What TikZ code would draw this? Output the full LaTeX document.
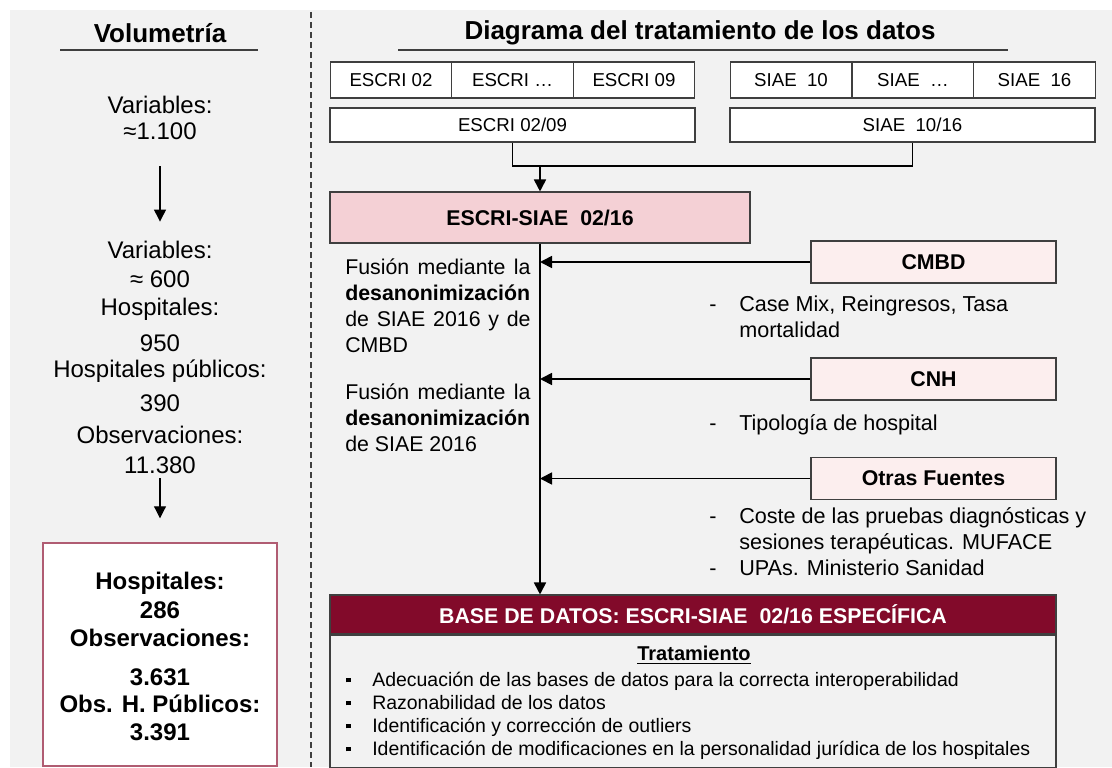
\documentclass[tikz,border=0pt]{standalone}
\usepackage{fontspec}
\setmainfont{Liberation Sans}
\usetikzlibrary{arrows.meta,positioning}
\definecolor{fondo}{HTML}{F2F2F2}
\definecolor{borde}{HTML}{3F3F3F}
\definecolor{rosa}{HTML}{F4D0D5}
\definecolor{rosaclaro}{HTML}{FCEEEE}
\definecolor{granate}{HTML}{820A2A}
\definecolor{marco}{HTML}{B05C72}
\newcommand{\vineta}{\raisebox{2.8pt}{\rule{3.5pt}{3.5pt}}}
\tikzset{
  titulo/.style={font=\fontsize{19.5}{22}\selectfont\bfseries, inner sep=0pt},
  subrayado/.style={draw=borde, line width=1pt},
  separador/.style={draw=borde, line width=1.1pt, dash pattern=on 4.5pt off 3pt},
  celda/.style={draw=borde, fill=white, line width=0.8pt, minimum width=91.4pt,
    minimum height=27pt, inner sep=0pt, font=\fontsize{14}{16}\selectfont},
  fila/.style={celda, minimum width=273.75pt, minimum height=25.5pt},
  fusion/.style={draw=borde, fill=rosa, line width=0.8pt, minimum width=315pt,
    minimum height=38.25pt, inner sep=0pt, font=\fontsize{16}{19}\selectfont\bfseries},
  fuente/.style={draw=borde, fill=rosaclaro, line width=0.8pt, minimum width=183.75pt,
    minimum height=31.5pt, inner sep=0pt, font=\fontsize{16}{19}\selectfont\bfseries},
  cabecera/.style={draw=borde, fill=granate, text=white, line width=0.8pt,
    minimum width=544.5pt, minimum height=29.25pt, inner sep=0pt,
    font=\fontsize{16}{19}\selectfont\bfseries},
  cuerpo/.style={draw=borde, fill=fondo, line width=0.8pt, minimum width=544.5pt,
    minimum height=99pt, inner sep=0pt},
  texto/.style={inner sep=0pt, font=\fontsize{16.2}{19.4}\selectfont},
  lista/.style={inner sep=0pt, font=\fontsize{14.6}{17.25}\selectfont},
  izq/.style={inner sep=0pt, font=\fontsize{18}{21}\selectfont},
  resnum/.style={inner sep=0pt, font=\fontsize{18}{21}\selectfont\bfseries},
  resumen/.style={draw=marco, fill=white, line width=1.1pt, minimum width=175.5pt,
    minimum height=167.25pt, inner sep=0pt},
  conector/.style={draw=black, line width=1.3pt},
  flecha/.style={conector, -{Triangle[width=9pt,length=9pt]}},
  flechafina/.style={draw=black, line width=0.8pt, -{Triangle[width=9pt,length=9pt]}}
}
\begin{document}
\begin{tikzpicture}[x=0.75pt,y=-0.75pt]
\useasboundingbox (0,0) rectangle (1112,767);
\fill[fondo] (10,10) rectangle (1112,767);
% separador de columnas
\draw[separador] (311,12) -- (311,767);
% titulos
\node[titulo] (tvol) at (160,33) {Volumetría};
\draw[subrayado] (60,50) -- (258,50);
\node[titulo] (tdiag) at (700,33) {Diagrama del tratamiento de los datos};
\draw[subrayado] (398,50) -- (1008,50);
% columna izquierda
\node[izq] (v1a) at (160,105) {Variables:};
\node[izq] (v1b) at (160,131) {≈1.100};
\node[izq] (v2a) at (160,250) {Variables:};
\node[izq] (v2b) at (160,279) {≈ 600};
\node[izq] (h2a) at (160,309) {Hospitales:};
\node[izq] (h2b) at (160,343) {950};
\node[izq] (p2a) at (160,371) {Hospitales públicos:};
\node[izq] (p2b) at (160,403) {390};
\node[izq] (o2a) at (160,435) {Observaciones:};
\node[izq] (o2b) at (160,465) {11.380};
\node[resumen] (lbox) at (160,654.5) {};
\node[resnum] (h3a) at (160,583) {Hospitales:};
\node[resnum] (h3b) at (160,610) {286};
\node[resnum] (o3a) at (160,638) {Observaciones:};
\node[resnum] (o3b) at (160,677) {3.631};
\node[resnum] (p3a) at (160,704) {Obs. H. Públicos:};
\node[resnum] (p3b) at (160,732) {3.391};
\draw[flechafina, shorten <=19.8pt, shorten >=14.5pt] (v1b) -- (v2a);
\draw[flechafina, shorten <=3.3pt, shorten >=18pt] (o2b) -- (lbox);
% fuentes ESCRI y SIAE
\node[celda] (e02) at (391,80) {ESCRI 02};
\node[celda] (exx) at (512.5,80) {ESCRI …};
\node[celda] (e09) at (634,80) {ESCRI 09};
\node[celda] (s10) at (791,80) {SIAE\ \ 10};
\node[celda] (sxx) at (913,80) {SIAE\ \ …};
\node[celda] (s16) at (1034.5,80) {SIAE\ \ 16};
\node[fila] (e0209) at (512.5,125) {ESCRI 02/09};
\node[fila] (s1016) at (912.5,125) {SIAE\ \ 10/16};
\node[fusion] (es) at (540,217.5) {ESCRI-SIAE\ \ 02/16};
\coordinate (union) at (540,166);
\draw[conector] (e0209.south) |- (union) -| (s1016.south);
\draw[flecha] (union) -- (es.north);
% fuentes externas
\node[fuente] (cmbd) at (933.5,262) {CMBD};
\node[fuente] (cnh) at (933.5,379) {CNH};
\node[fuente] (otras) at (933.5,478.5) {Otras Fuentes};
\node[texto, anchor=west] (lcmbd) at (709,319)
  {\begin{tabular}{@{}p{22.5pt}@{}l@{}}-&Case Mix, Reingresos, Tasa\\&mortalidad\end{tabular}};
\node[texto, anchor=west] (lcnh) at (709,425)
  {\begin{tabular}{@{}p{22.5pt}@{}l@{}}-&Tipología de hospital\end{tabular}};
\node[texto, anchor=west] (lotras) at (709,544)
  {\begin{tabular}{@{}p{22.5pt}@{}l@{}}-&Coste de las pruebas diagnósticas y\\
   &sesiones terapéuticas. MUFACE\\-&UPAs. Ministerio Sanidad\end{tabular}};
\node[texto, text width=139pt, align=justify, anchor=west, font=\fontsize{16}{19.4}\selectfont] (fus1) at (345,305.5)
  {Fusión mediante la\linebreak \textbf{desanonimización}\linebreak de SIAE 2016 y de\linebreak CMBD};
\node[texto, text width=139pt, align=justify, anchor=west, font=\fontsize{16}{19.4}\selectfont] (fus2) at (345,418)
  {Fusión mediante la\linebreak \textbf{desanonimización}\linebreak de SIAE 2016};
% base de datos final
\node[cabecera] (bdh) at (693,614.5) {BASE DE DATOS: ESCRI-SIAE\ \ 02/16 ESPECÍFICA};
\node[cuerpo, below=0pt of bdh] (bdb) {};
\node[lista, font=\fontsize{15}{17}\selectfont\bfseries] (ttrat) at (694,655) {\underline{Tratamiento}};
\node[lista, anchor=west] (ltrat) at (346,716)
  {\begin{tabular}{@{}p{19.5pt}@{}l@{}}
   \vineta&Adecuación de las bases de datos para la correcta interoperabilidad\\
   \vineta&Razonabilidad de los datos\\
   \vineta&Identificación y corrección de outliers\\
   \vineta&Identificación de modificaciones en la personalidad jurídica de los hospitales
   \end{tabular}};
% conexiones
\draw[flecha] (es.south) -- (es.south |- bdh.north);
\draw[flecha] (cmbd.west) -- (cmbd.west -| es.south);
\draw[flecha] (cnh.west) -- (cnh.west -| es.south);
\draw[flecha] (otras.west) -- (otras.west -| es.south);
\end{tikzpicture}
\end{document}
